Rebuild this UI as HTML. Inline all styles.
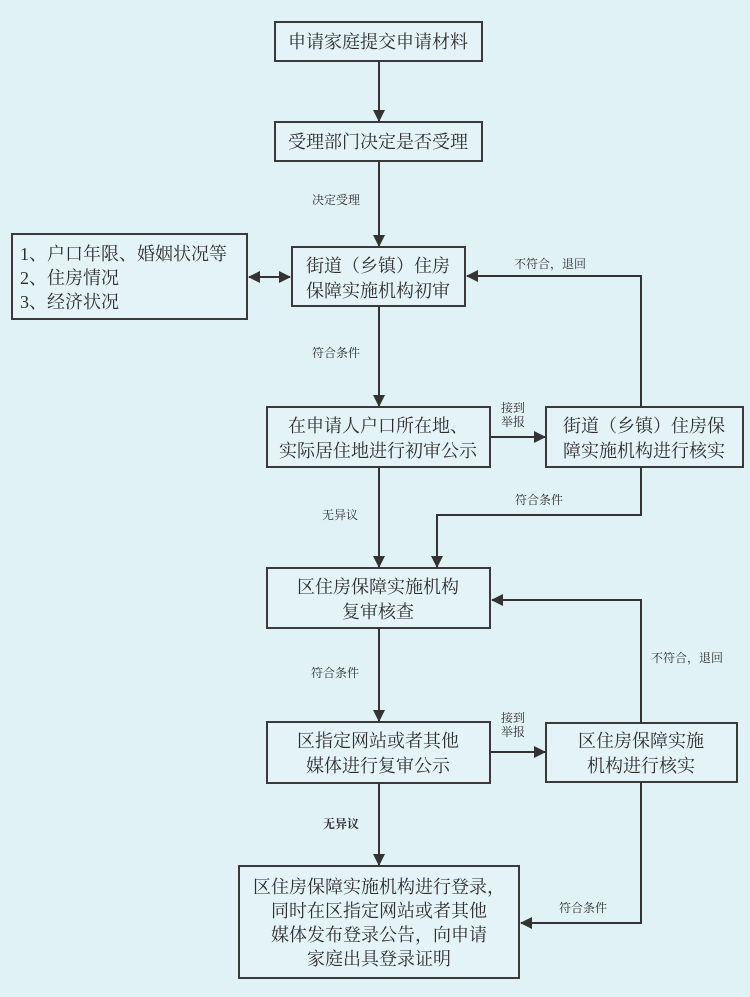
<!DOCTYPE html>
<html><head><meta charset="utf-8"><style>
html,body{margin:0;padding:0;background:#e1f2f7;}
svg{display:block;}
text{font-family:"Liberation Serif","Noto Serif CJK SC",serif;fill:#2e2e2e;}
.b{font-size:18px;}
.l{font-size:12px;fill:#444;}
</style></head><body>
<svg width="750" height="997" viewBox="0 0 750 997" xmlns="http://www.w3.org/2000/svg">
<defs><marker id="a" markerWidth="12" markerHeight="12" refX="11" refY="6" orient="auto" markerUnits="userSpaceOnUse"><path d="M0,0 L12,6 L0,12 z" fill="#333"/></marker>
<marker id="s" markerWidth="12" markerHeight="12" refX="1" refY="6" orient="auto" markerUnits="userSpaceOnUse"><path d="M12,0 L0,6 L12,12 z" fill="#333"/></marker></defs>
<rect width="750" height="997" fill="#e1f2f7"/>
<g fill="#e3f3f8" stroke="#3a3a3a" stroke-width="2">
<rect x="275" y="22" width="207" height="39"/>
<rect x="275" y="122" width="207" height="39"/>
<rect x="292" y="247" width="173" height="59"/>
<rect x="12" y="234" width="235" height="85"/>
<rect x="267" y="407" width="223" height="60"/>
<rect x="546" y="407" width="197" height="60"/>
<rect x="267" y="568" width="223" height="60"/>
<rect x="267" y="722" width="223" height="61"/>
<rect x="546" y="723" width="191" height="59"/>
<rect x="239" y="866" width="280" height="112"/>
</g>
<g stroke="#333" stroke-width="2" fill="none">
<line x1="379" y1="61" x2="379" y2="121" marker-end="url(#a)"/>
<line x1="379" y1="161" x2="379" y2="246" marker-end="url(#a)"/>
<line x1="249" y1="277" x2="290" y2="277" marker-start="url(#s)" marker-end="url(#a)"/>
<polyline points="641,407 641,276 467,276" marker-end="url(#a)"/>
<line x1="379" y1="306" x2="379" y2="406" marker-end="url(#a)"/>
<line x1="490" y1="437" x2="545" y2="437" marker-end="url(#a)"/>
<line x1="379" y1="467" x2="379" y2="567" marker-end="url(#a)"/>
<polyline points="641,467 641,515 437,515 437,567" marker-end="url(#a)"/>
<polyline points="641,723 641,600 492,600" marker-end="url(#a)"/>
<line x1="379" y1="628" x2="379" y2="721" marker-end="url(#a)"/>
<line x1="490" y1="752" x2="545" y2="752" marker-end="url(#a)"/>
<line x1="379" y1="783" x2="379" y2="865" marker-end="url(#a)"/>
<polyline points="641,782 641,923 521,923" marker-end="url(#a)"/>
</g>
<g class="b" text-anchor="middle">
<text x="378" y="48">申请家庭提交申请材料</text>
<text x="378" y="148">受理部门决定是否受理</text>
<text x="378" y="272">街道（乡镇）住房</text>
<text x="378" y="297">保障实施机构初审</text>
<text x="378" y="432">在申请人户口所在地、</text>
<text x="378" y="457">实际居住地进行初审公示</text>
<text x="644" y="432">街道（乡镇）住房保</text>
<text x="644" y="457">障实施机构进行核实</text>
<text x="378" y="593">区住房保障实施机构</text>
<text x="378" y="618">复审核查</text>
<text x="378" y="747">区指定网站或者其他</text>
<text x="378" y="772">媒体进行复审公示</text>
<text x="641" y="747">区住房保障实施</text>
<text x="641" y="772">机构进行核实</text>
<text x="379" y="893">区住房保障实施机构进行登录，</text>
<text x="379" y="917">同时在区指定网站或者其他</text>
<text x="379" y="941">媒体发布登录公告，向申请</text>
<text x="379" y="965">家庭出具登录证明</text>
</g>
<g class="b">
<text x="20" y="260">1、户口年限、婚姻状况等</text>
<text x="20" y="284">2、住房情况</text>
<text x="20" y="308">3、经济状况</text>
</g>
<g class="l">
<text x="312" y="204">决定受理</text>
<text x="514" y="268">不符合，退回</text>
<text x="312" y="357">符合条件</text>
<text x="501" y="412">接到</text>
<text x="501" y="426">举报</text>
<text x="322" y="519">无异议</text>
<text x="515" y="504">符合条件</text>
<text x="651" y="662">不符合，退回</text>
<text x="311" y="677">符合条件</text>
<text x="501" y="722">接到</text>
<text x="501" y="736">举报</text>
<text x="323" y="828" font-weight="bold" fill="#222">无异议</text>
<text x="559" y="912">符合条件</text>
</g>
</svg>
</body></html>
